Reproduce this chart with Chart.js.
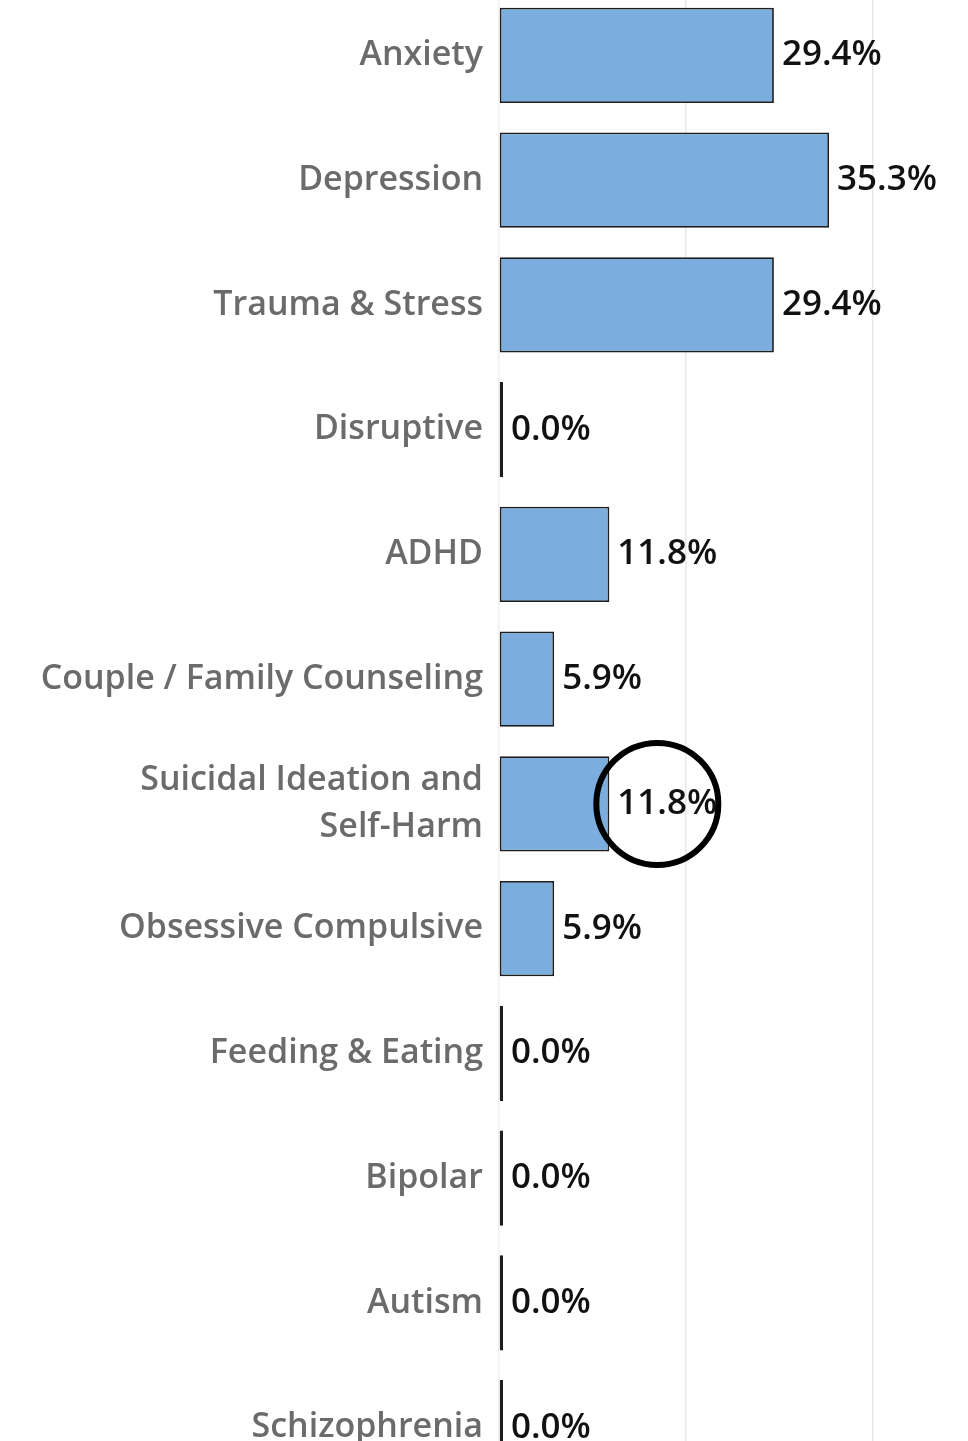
<!DOCTYPE html>
<html>
<head>
<meta charset="utf-8">
<script src="https://cdn.jsdelivr.net/npm/chart.js@4.4.1/dist/chart.umd.min.js"></script>
<style>
  html, body { margin: 0; padding: 0; background: #fff; overflow: hidden; }
  #wrap { position: absolute; left: 0; top: -7px; width: 968px; height: 1497px; }
</style>
</head>
<body>
<div id="wrap"><canvas id="diagnosis-chart"></canvas></div>
<script>
// Share of clients per diagnosis group
const categories = [
  "Anxiety",
  "Depression",
  "Trauma & Stress",
  "Disruptive",
  "ADHD",
  "Couple / Family Counseling",
  ["Suicidal Ideation and", "Self-Harm"],
  "Obsessive Compulsive",
  "Feeding & Eating",
  "Bipolar",
  "Autism",
  "Schizophrenia",
];
const percentages = [29.4, 35.3, 29.4, 0.0, 11.8, 5.9, 11.8, 5.9, 0.0, 0.0, 0.0, 0.0];
const gridTicks = [0, 20, 40];
const circledIndex = 6; // the ringed label

// value labels at the end of each bar
const valueLabels = {
  id: "valueLabels",
  afterDatasetsDraw(chart) {
    const ctx = chart.ctx;
    const meta = chart.getDatasetMeta(0);
    ctx.save();
    ctx.font = "600 35px 'Open Sans'";
    ctx.fillStyle = "#111";
    ctx.textAlign = "left";
    ctx.textBaseline = "middle";
    meta.data.forEach((bar, i) => {
      ctx.fillText(percentages[i].toFixed(1) + "%", bar.x + 8, bar.y);
    });
    // hand-drawn style ring round one label
    const bar = meta.data[circledIndex];
    ctx.beginPath();
    ctx.arc(bar.x + 48, bar.y, 61, 0, Math.PI * 2);
    ctx.lineWidth = 6;
    ctx.strokeStyle = "#000";
    ctx.stroke();
    ctx.restore();
  },
};

const ctx = document.getElementById("diagnosis-chart").getContext("2d");
const chart = new Chart(ctx, {
  type: "bar",
  data: {
    labels: categories,
    datasets: [
      {
        data: percentages,
        backgroundColor: "#7badde",
        borderColor: "#1e1e1e",
        borderWidth: 1.8,
        borderSkipped: false,
        minBarLength: 4,
        barPercentage: 0.765,
        categoryPercentage: 1,
      },
    ],
  },
  options: {
    indexAxis: "y",
    responsive: true,
    maintainAspectRatio: false,
    animation: false,
    layout: { padding: { top: 0, bottom: 0, left: 0, right: 1.5 } },
    plugins: {
      legend: { display: false },
      tooltip: { enabled: false },
    },
    scales: {
      x: {
        min: 0,
        max: 50,
        afterBuildTicks: (scale) => {
          scale.ticks = gridTicks.map((v) => ({ value: v }));
        },
        afterFit: (scale) => {
          scale.height = 0;
          scale.paddingLeft = 0;
          scale.paddingRight = 0;
        },
        ticks: { display: false },
        border: { display: false },
        grid: {
          drawTicks: false,
          lineWidth: 1.5,
          color: (c) => (c.tick && c.tick.value === 0 ? "#f0f0f0" : "#e8e8e8"),
        },
      },
      y: {
        afterFit: (scale) => {
          scale.width = 499;
          scale.paddingTop = 0;
          scale.paddingBottom = 0;
        },
        border: { display: false },
        grid: { display: false, drawTicks: false },
        ticks: {
          padding: 16,
          color: "#6b6b6b",
          font: { family: "'Open Sans'", size: 34, weight: 600, lineHeight: 1.4 },
        },
      },
    },
  },
  plugins: [valueLabels],
});
</script>
</body>
</html>
